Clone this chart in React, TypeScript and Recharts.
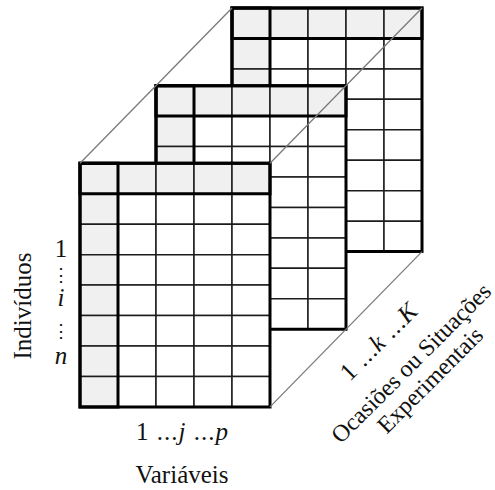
import React from 'react';
import { ScatterChart, Scatter, XAxis, YAxis, ReferenceArea, ReferenceLine } from 'recharts';

// three-way data cube: individuals x variables x occasions
const occasions = [3, 2, 1]; // slices, drawn back to front (1 = front)
const individualRows = [0, 1, 2, 3, 4, 5, 6, 7]; // row 0 = header row
const variableCols = [0, 1, 2, 3, 4]; // col 0 = header column

const individualTicks = ['1', '⋮', 'i', '⋮', 'n'];
const variableTicks = ['1 ...', 'j', ' ...', 'p'];
const occasionTicks = ['1 ...', 'k', ' ...', 'K'];
const axisTitles = ['Indivíduos', 'Variáveis', 'Ocasiões ou Situações', 'Experimentais'];

const W = 495;
const H = 490;
// one unit = one cell
const CELL_W = 38;
const CELL_H = 30.45;
const ORIGIN_X = 80;
const ORIGIN_Y = 163.3;
const X_DOMAIN = [-ORIGIN_X / CELL_W, (W - ORIGIN_X) / CELL_W];
const Y_DOMAIN = [-ORIGIN_Y / CELL_H, (H - ORIGIN_Y) / CELL_H];
const DEPTH_DX = 2;
const DEPTH_DY = -2.55;

const FONT = '"Liberation Serif", "DejaVu Serif", serif';
const nRows = individualRows.length;
const nCols = variableCols.length;

// text placement, given in page pixels and turned into cell units
const at = (px: number, py: number) => ({ x: (px - ORIGIN_X) / CELL_W, y: (py - ORIGIN_Y) / CELL_H });

const captions = [
    { ...at(31, 306), parts: [axisTitles[0]], angle: -90, base: 'auto', size: 25 },
    { ...at(61, 257), parts: [individualTicks[0]], base: 'auto', size: 25 },
    { ...at(61, 275), parts: [individualTicks[1]], base: 'central', size: 18 },
    { ...at(61, 305.5), parts: ['', individualTicks[2]], base: 'auto', size: 25 },
    { ...at(61, 331), parts: [individualTicks[3]], base: 'central', size: 18 },
    { ...at(61, 363.5), parts: ['', individualTicks[4]], base: 'auto', size: 25 },
    { ...at(182, 440), parts: variableTicks, base: 'auto', len: 92, size: 25 },
    { ...at(182, 483), parts: [axisTitles[1]], base: 'auto', size: 25 },
    { ...at(378, 341), parts: occasionTicks, angle: -45, base: 'central', len: 98, size: 25 },
    { ...at(411, 363), parts: [axisTitles[2]], angle: -45, base: 'central', size: 24 },
    { ...at(430, 380), parts: [axisTitles[3]], angle: -45, base: 'central', size: 24 },
];

// eslint-disable-next-line @typescript-eslint/no-explicit-any
const renderCaption = (props: any) => {
    const { cx, cy, payload } = props;
    return (
        <text
            x={cx}
            y={cy}
            transform={payload.angle ? `rotate(${payload.angle} ${cx} ${cy})` : undefined}
            textAnchor="middle"
            dominantBaseline={payload.base}
            fontFamily={FONT}
            fontSize={payload.size}
            fill="#111"
            style={{ whiteSpace: 'pre' }}
            textLength={payload.len}
            lengthAdjust={payload.len ? 'spacing' : undefined}
        >
            {payload.parts.map((p: string, i: number) => (
                <tspan key={i} fontStyle={i % 2 === 1 ? 'italic' : 'normal'}>{p}</tspan>
            ))}
        </text>
    );
};

export default function App() {
    const slices = occasions.map((k) => {
        const dx = (k - 1) * DEPTH_DX;
        const dy = (k - 1) * DEPTH_DY;
        const cells = individualRows.flatMap((r) =>
            variableCols.map((c) => (
                <ReferenceArea
                    key={`c-${k}-${r}-${c}`}
                    x1={c + dx}
                    x2={c + 1 + dx}
                    y1={r + dy}
                    y2={r + 1 + dy}
                    fill={r === 0 || c === 0 ? '#f0f0f0' : '#ffffff'}
                    fillOpacity={1}
                    stroke="#1c1c1c"
                    strokeWidth={1.5}
                />
            ))
        );
        const thick = [
            [0, nCols, 0, 1],
            [0, 1, 0, nRows],
            [0, nCols, 0, nRows],
        ].map(([a, b, c, d], i) => (
            <ReferenceArea
                key={`t-${k}-${i}`}
                x1={a + dx}
                x2={b + dx}
                y1={c + dy}
                y2={d + dy}
                fill="none"
                fillOpacity={0}
                stroke="#000"
                strokeWidth={3}
            />
        ));
        return [...cells, ...thick];
    });

    const back = occasions[0] - 1;
    const edges = [
        [0, 0],
        [nCols, 0],
        [nCols, nRows],
    ].map(([c, r], i) => (
        <ReferenceLine
            key={`e-${i}`}
            segment={[
                { x: c, y: r },
                { x: c + back * DEPTH_DX, y: r + back * DEPTH_DY },
            ]}
            stroke="#7a7a7a"
            strokeWidth={1.3}
            ifOverflow="visible"
        />
    ));

    return (
        <div style={{ position: 'absolute', left: 0, top: 0, background: '#fff' }}>
            <ScatterChart width={W} height={H} margin={{ top: 0, right: 0, bottom: 0, left: 0 }}>
                <XAxis type="number" dataKey="x" domain={X_DOMAIN} hide allowDataOverflow />
                <YAxis type="number" dataKey="y" domain={Y_DOMAIN} reversed hide allowDataOverflow />
                {slices}
                {edges}
                <Scatter data={captions} shape={renderCaption} isAnimationActive={false} />
            </ScatterChart>
        </div>
    );
}
